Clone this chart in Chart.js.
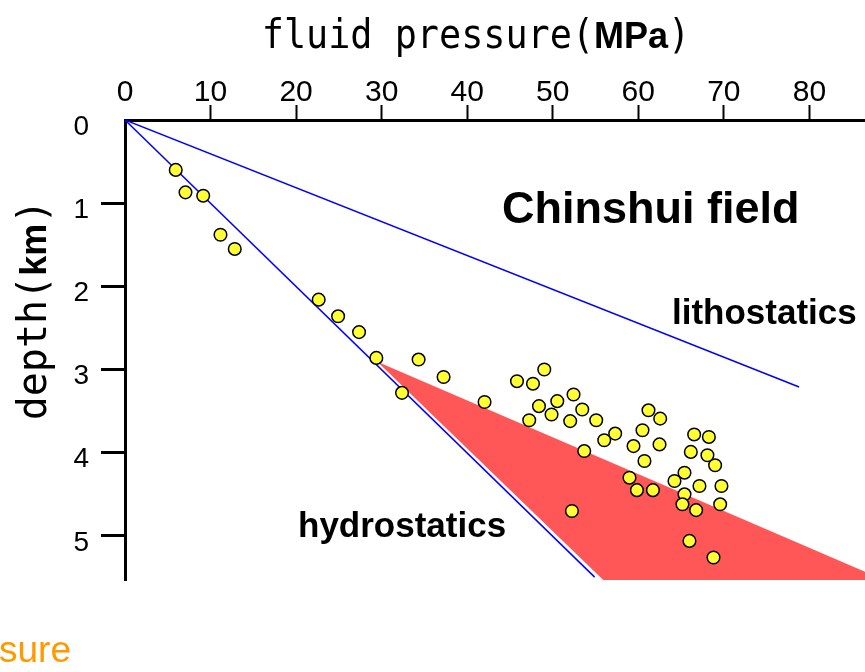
<!DOCTYPE html>
<html>
<head>
<meta charset="utf-8">
<script src="https://cdn.jsdelivr.net/npm/chart.js@4.4.1/dist/chart.umd.min.js"></script>
<style>
  html, body { margin: 0; padding: 0; background: #fff; }
  #wrap { width: 865px; height: 672px; position: relative; }
</style>
</head>
<body>
<div id="wrap"><canvas id="pressureChart"></canvas></div>
<script>
// well measurements, Chinshui field
const pressure = [5.93, 7.07, 9.14, 11.16, 12.83, 22.64, 24.91, 27.36, 29.38, 34.32,
  37.24, 32.38, 42.03, 45.82, 47.69, 49.01, 48.39, 50.53, 52.43, 47.25,
  49.86, 52.04, 53.45, 55.08, 57.30, 56.02, 53.68, 61.19, 62.56, 60.49,
  59.44, 62.48, 60.72, 66.53, 68.25, 66.14, 68.08, 68.98, 65.40, 64.23,
  58.97, 59.84, 61.71, 67.15, 69.72, 65.40, 65.16, 66.76, 69.57, 52.24,
  65.98, 68.79];
const depth = [0.60, 0.87, 0.91, 1.38, 1.55, 2.16, 2.36, 2.55, 2.86, 2.88,
  3.09, 3.28, 3.39, 3.14, 3.17, 3.00, 3.44, 3.38, 3.30, 3.61,
  3.54, 3.62, 3.48, 3.61, 3.77, 3.85, 3.98, 3.49, 3.59, 3.73,
  3.92, 3.90, 4.10, 3.78, 3.81, 3.99, 4.03, 4.15, 4.24, 4.34,
  4.30, 4.45, 4.45, 4.40, 4.40, 4.50, 4.62, 4.69, 4.62, 4.70,
  5.06, 5.26];

// gradient lines
const hydroPressure = [0, 54.9];
const hydroDepth = [0, 5.495];
const lithoPressure = [0, 78.8];
const lithoDepth = [0, 3.21];

// overpressured zone outline
const zonePressure = [29.5, 86.5, 86.5, 55.9];
const zoneDepth = [2.905, 5.43, 5.53, 5.53];

const xTicks = [0, 10, 20, 30, 40, 50, 60, 70, 80];
const yTicks = [0, 1, 2, 3, 4, 5];

const toXY = (xs, ys) => xs.map((v, i) => ({ x: v, y: ys[i] }));
const hideZero = c => (c.tick && c.tick.value === 0) ? 'rgba(0,0,0,0)' : '#000';

const figureText = {
  id: 'figureText',
  afterDraw(chart) {
    const ctx = chart.ctx;
    const mono = '40px "DejaVu Sans Mono", monospace';
    const bold = 'bold 36px "Liberation Sans", Arial, sans-serif';
    ctx.save();
    ctx.fillStyle = '#000';
    ctx.textBaseline = 'alphabetic';
    ctx.textAlign = 'left';

    // top axis title
    const sx = 0.92;
    ctx.font = mono;
    const a = ctx.measureText('fluid pressure(').width * sx;
    const c = ctx.measureText(')').width * sx;
    ctx.font = bold;
    const b = ctx.measureText('MPa').width;
    let x0 = 476 - (a + b + c) / 2;
    ctx.save();
    ctx.translate(x0, 48);
    ctx.scale(sx, 1);
    ctx.font = mono;
    ctx.fillText('fluid pressure(', 0, 0);
    ctx.restore();
    ctx.font = bold;
    ctx.fillText('MPa', x0 + a, 48);
    ctx.save();
    ctx.translate(x0 + a + b, 48);
    ctx.scale(sx, 1);
    ctx.font = mono;
    ctx.fillText(')', 0, 0);
    ctx.restore();

    // left axis title
    ctx.font = mono;
    const d1 = ctx.measureText('depth(').width;
    const d3 = ctx.measureText(')').width;
    ctx.font = bold;
    const d2 = ctx.measureText('km').width;
    ctx.save();
    ctx.translate(46, 310);
    ctx.rotate(-Math.PI / 2);
    let s = -(d1 + d2 + d3) / 2;
    ctx.font = mono;
    ctx.fillText('depth(', s, 0);
    ctx.font = bold;
    ctx.fillText('km', s + d1, 0);
    ctx.font = mono;
    ctx.fillText(')', s + d1 + d2, 0);
    ctx.restore();

    // annotations
    ctx.font = 'bold 45px "Liberation Sans", Arial, sans-serif';
    ctx.fillText('Chinshui field', 502, 223);
    ctx.font = 'bold 35px "Liberation Sans", Arial, sans-serif';
    ctx.fillText('lithostatics', 672, 324);
    ctx.fillText('hydrostatics', 298, 537);

    ctx.fillStyle = '#ff9900';
    ctx.font = '37px "Liberation Sans", Arial, sans-serif';
    ctx.fillText('sure', -1, 662);
    ctx.restore();
  }
};

const chart = new Chart(document.getElementById('pressureChart'), {
  type: 'scatter',
  data: {
    datasets: [
      {
        label: 'wells',
        data: toXY(pressure, depth),
        backgroundColor: '#ffff33',
        borderColor: '#000',
        borderWidth: 1.5,
        pointRadius: 6.3,
        showLine: false
      },
      {
        label: 'hydrostatics',
        data: toXY(hydroPressure, hydroDepth),
        showLine: true,
        borderColor: '#0000ff',
        borderWidth: 1.5,
        pointRadius: 0,
        fill: false
      },
      {
        label: 'lithostatics',
        data: toXY(lithoPressure, lithoDepth),
        showLine: true,
        borderColor: '#0000ff',
        borderWidth: 1.5,
        pointRadius: 0,
        fill: false
      },
      {
        label: 'zone',
        data: toXY(zonePressure, zoneDepth),
        showLine: true,
        borderWidth: 0,
        borderColor: 'rgba(0,0,0,0)',
        backgroundColor: '#ff5757',
        pointRadius: 0,
        fill: 'shape'
      }
    ]
  },
  options: {
    responsive: true,
    maintainAspectRatio: false,
    animation: false,
    layout: { autoPadding: false, padding: { left: 0, top: 0, right: 0, bottom: 92 } },
    plugins: { legend: { display: false }, tooltip: { enabled: false } },
    scales: {
      x: {
        type: 'linear',
        position: 'top',
        min: 0,
        max: 86.5,
        afterFit: sc => { sc.height = 120; },
        afterBuildTicks: sc => { sc.ticks = xTicks.map(v => ({ value: v })); },
        ticks: {
          color: '#000',
          font: { family: '"Liberation Sans", Arial, sans-serif', size: 30 },
          padding: -6,
          maxRotation: 0
        },
        grid: { drawOnChartArea: false, tickLength: 15, tickWidth: 2, tickColor: hideZero },
        border: { display: true, color: '#000', width: 3 }
      },
      y: {
        type: 'linear',
        reverse: true,
        min: 0,
        max: 5.53,
        afterFit: sc => { sc.width = 125; },
        afterBuildTicks: sc => { sc.ticks = yTicks.map(v => ({ value: v })); },
        ticks: {
          color: '#000',
          font: { family: '"Liberation Sans", Arial, sans-serif', size: 28 },
          padding: 12,
          labelOffset: 7
        },
        grid: { drawOnChartArea: false, tickLength: 24, tickWidth: 3, tickColor: hideZero },
        border: { display: true, color: '#000', width: 3 }
      }
    }
  },
  plugins: [figureText]
});
</script>
</body>
</html>
